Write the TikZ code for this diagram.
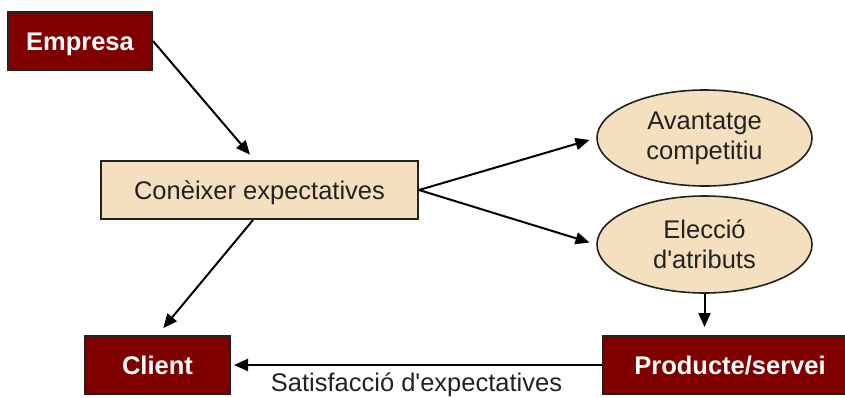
\documentclass[tikz,border=0pt]{standalone}
\usepackage{fontspec}
\setmainfont{Liberation Sans}
\usetikzlibrary{shapes.geometric,arrows.meta,calc}
\definecolor{maroonbox}{RGB}{128,0,0}
\definecolor{wheatbox}{RGB}{244,223,191}
\definecolor{inkgray}{RGB}{34,34,34}
\begin{document}
\begin{tikzpicture}[x=1pt,y=1pt,
  every node/.style={font=\fontsize{25.5}{30}\selectfont},
  darkbox/.style={draw=inkgray, line width=2pt, fill=maroonbox, text=white,
    font=\fontsize{25.5}{30}\selectfont\bfseries, inner sep=0pt,
    text height=18.4pt, text depth=0pt},
  lightbox/.style={draw=inkgray, line width=2pt, fill=wheatbox, text=inkgray,
    inner sep=0pt, text height=18.4pt, text depth=0pt},
  oval/.style={ellipse, draw=inkgray, line width=1.6pt, fill=wheatbox, text=inkgray,
    inner sep=0pt, align=center},
  arr/.style={draw=black, line width=2pt, -{Triangle[length=14pt,width=12pt]}}
]
\useasboundingbox (0,0) rectangle (845,-397);
\fill[white] (0,0) rectangle (845,-397);

% boxes and ovals
\node[darkbox, minimum width=144, minimum height=58] (empresa) at (80,-41) {Empresa};
\node[lightbox, minimum width=317, minimum height=58] (kon) at (259.5,-190) {Conèixer expectatives};
\node[oval, minimum width=215, minimum height=96] (av) at (704.5,-138) {Avantatge\\competitiu};
\node[oval, minimum width=215, minimum height=97] (el) at (704.5,-244.5) {Elecció\\d\textquotesingle atributs};
\node[darkbox, minimum width=145, minimum height=58] (client) at (157.5,-365) {Client};
\node[darkbox, minimum width=254, minimum height=58] (prod) at (730,-365) {Producte/servei};

% connectors
\draw[arr, shorten >=7pt] (empresa.east) -- ([xshift=-5pt]kon.north);
\draw[arr, shorten >=7pt] (kon.east) -- (av.west);
\draw[arr, shorten >=7pt] (kon.east) -- (el.west);
\draw[arr, shorten >=9pt] ([xshift=-6.5pt]kon.south) -- (client.north);
\draw[arr, shorten >=8pt] (el.south) -- (el.south |- prod.north);
\draw[arr, shorten >=3pt] (prod.west) -- (client.east)
  node[midway, below, inner sep=0pt, yshift=-7pt, text=inkgray] (sat) {Satisfacció d\textquotesingle expectatives};
\end{tikzpicture}
\end{document}
